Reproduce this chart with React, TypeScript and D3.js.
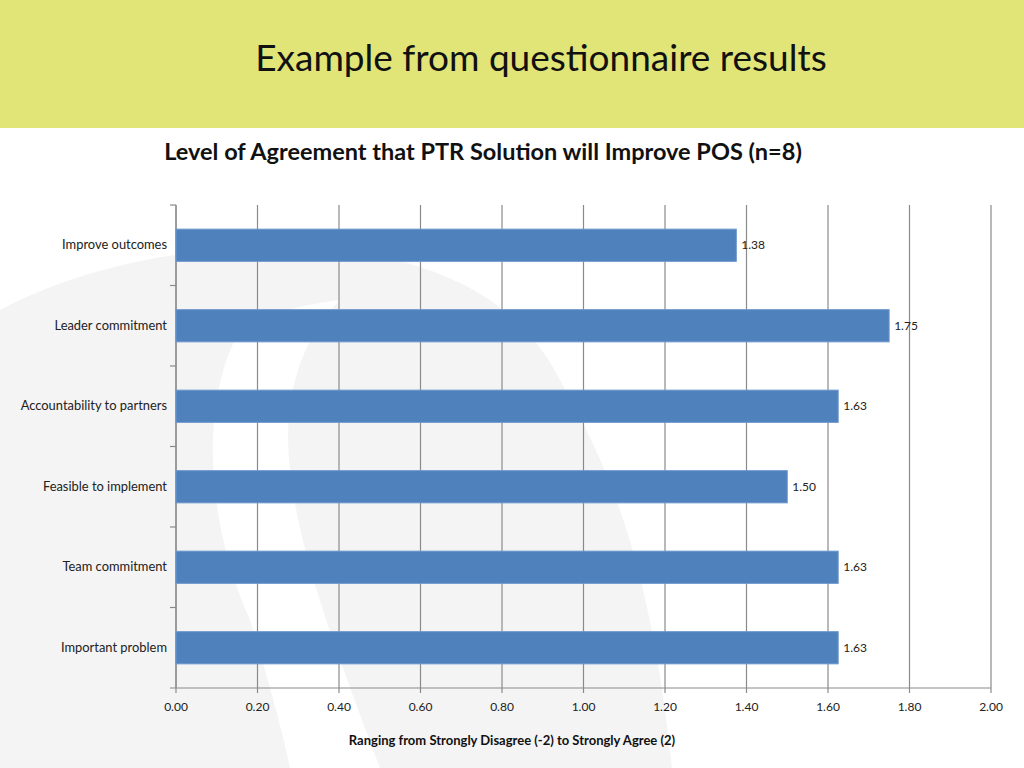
import React from "react";
import * as d3 from "d3";

const categories = [
  "Improve outcomes",
  "Leader commitment",
  "Accountability to partners",
  "Feasible to implement",
  "Team commitment",
  "Important problem",
];
const values = [1.375, 1.75, 1.625, 1.5, 1.625, 1.625];
const xTicks = [0, 0.2, 0.4, 0.6, 0.8, 1.0, 1.2, 1.4, 1.6, 1.8, 2.0];

const W = 1024;
const H = 768;
const left = 176;
const right = 991;
const top = 205;
const bottom = 688;
const FONT = "Lato, 'Open Sans', sans-serif";

export default function App() {
  const x = d3.scaleLinear().domain([0, 2]).range([left, right]);
  const y = d3.scaleBand<string>().domain(categories).range([top, bottom]).paddingInner(0.6).paddingOuter(0.3);
  const band = (bottom - top) / categories.length;
  const gridColor = "#8a8a8a";

  return (
    <svg width={W} height={H} style={{ position: "absolute", left: 0, top: 0, background: "#fff" }}>
      {/* decorative background swirl */}
      <path
        d="M0,310 C90,262 220,238 340,250 C440,262 520,300 560,380 C610,470 650,560 672,768 L0,768 Z"
        fill="#f4f4f4"
      />
      <path
        d="M240,330 C200,400 205,520 250,620 C265,670 280,720 290,768 L380,768 C340,660 300,560 290,470 C282,400 300,340 340,300 C300,305 262,315 240,330 Z"
        fill="#ffffff"
      />
      {/* header band */}
      <rect x={0} y={0} width={W} height={128} fill="#e1e476" />
      <text x={541} y={71} textAnchor="middle" fontFamily={FONT} fontSize={37} fill="#111">
        Example from questionnaire results
      </text>
      <text x={483} y={160} textAnchor="middle" fontFamily={FONT} fontWeight="bold" fontSize={23.5} fill="#111">
        Level of Agreement that PTR Solution will Improve POS (n=8)
      </text>

      {/* gridlines */}
      {xTicks.map((t) => (
        <line key={"g" + t} x1={x(t)} x2={x(t)} y1={top} y2={bottom + 5} stroke={gridColor} strokeWidth={1.2} />
      ))}
      {/* axes */}
      <line x1={left} x2={left} y1={top} y2={bottom} stroke={gridColor} strokeWidth={1.2} />
      <line x1={left - 6} x2={right} y1={bottom} y2={bottom} stroke={gridColor} strokeWidth={1.2} />
      {categories.map((c, i) => (
        <line key={"yt" + i} x1={left - 6} x2={left} y1={top + i * band} y2={top + i * band} stroke={gridColor} strokeWidth={1.2} />
      ))}

      {/* bars */}
      {categories.map((c, i) => (
        <rect
          key={"b" + c}
          x={x(0)}
          y={y(c)}
          width={x(values[i]) - x(0)}
          height={y.bandwidth()}
          fill="#4f81bd"
          stroke="#6d97cc"
          strokeWidth={1}
        />
      ))}
      {/* value labels */}
      {categories.map((c, i) => (
        <text
          key={"v" + c}
          x={x(values[i]) + 5}
          y={(y(c) as number) + y.bandwidth() / 2 + 4}
          fontFamily={FONT}
          fontSize={12}
          fill="#222"
        >
          {values[i].toFixed(2)}
        </text>
      ))}
      {/* category labels */}
      {categories.map((c) => (
        <text
          key={"c" + c}
          x={left - 9}
          y={(y(c) as number) + y.bandwidth() / 2 + 4}
          textAnchor="end"
          fontFamily={FONT}
          fontSize={12.9}
          fill="#222"
        >
          {c}
        </text>
      ))}
      {/* x tick labels */}
      {xTicks.map((t) => (
        <text key={"xl" + t} x={x(t)} y={711} textAnchor="middle" fontFamily={FONT} fontSize={12} fill="#222">
          {t.toFixed(2)}
        </text>
      ))}
      <text x={512} y={745} textAnchor="middle" fontFamily={FONT} fontWeight="bold" fontSize={13} fill="#111">
        Ranging from Strongly Disagree (-2) to Strongly Agree (2)
      </text>
    </svg>
  );
}
